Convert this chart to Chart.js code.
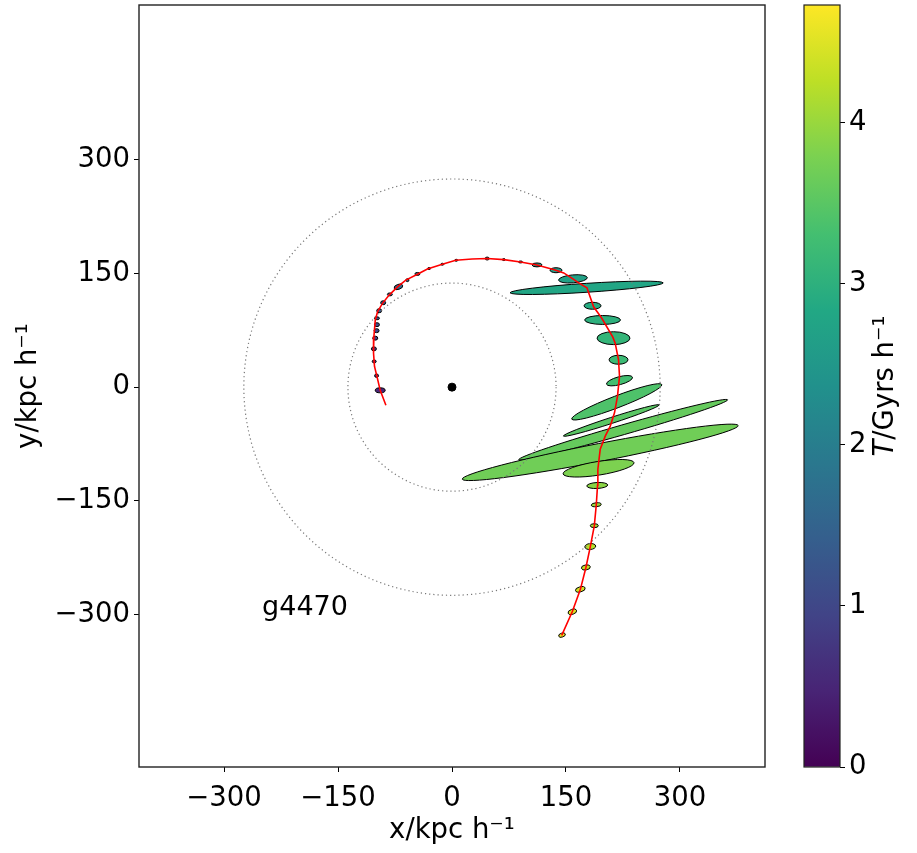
<!DOCTYPE html>
<html>
<head>
<meta charset="utf-8">
<script src="https://cdn.jsdelivr.net/npm/chart.js@4.4.0/dist/chart.umd.min.js"></script>
<style>
  body { margin: 0; background: #fff; }
  #wrap { position: relative; width: 917px; height: 853px; }
  #orbit { position: absolute; left: 0; top: 0; }
  #cbar { position: absolute; left: 760px; top: 0; }
</style>
</head>
<body>
<div id="wrap">
  <canvas id="orbit" width="917" height="853"></canvas>
  <canvas id="cbar" width="157" height="853"></canvas>
</div>
<script>
const FONT = "'DejaVu Sans', sans-serif";

// orbit track (kpc/h)
const trackX = [144.4, 158.4, 168.9, 176.2, 182, 187.3, 189.9, 191.6, 192, 195.1, 201.7, 208.3, 213.9, 217.8, 220.5, 219.2, 214.8, 211.7, 197.2, 186.4, 177.6, 166.7, 159.2, 147, 136.9, 111.9, 90.2, 68.2, 46.3, 26.6, 4.9, -12.7, -32.4, -45.5, -60.8, -71.8, -82.7, -91.5, -98, -101, -102.8, -103.3, -102, -98.8, -94.5, -87];
const trackY = [-327.4, -296, -267, -238.2, -210.6, -183, -155.5, -129.3, -108.3, -82, -64.6, -51.4, -33.9, -12.1, 14.2, 36.1, 58, 65.9, 90.8, 106, 131, 137.5, 142.8, 150.7, 154.2, 161.2, 165.1, 168.2, 169.6, 169, 167.3, 162.1, 155.9, 148.9, 141.1, 132.3, 121.4, 110.5, 99.5, 88.6, 66.7, 44.9, 27.3, 14.2, -4.2, -23.9];

// ellipses along the orbit, in time order (T, Gyr/h)
const ellT = [0.5, 0.6, 0.7, 0.8, 0.9, 1.0, 1.1, 1.2, 1.3, 1.4, 1.5, 1.6, 1.7, 1.8, 1.9, 2.0, 2.1, 2.2, 2.3, 2.4, 2.5, 2.6, 2.7, 2.8, 2.9, 3.0, 3.1, 3.2, 3.3, 3.4, 3.5, 3.6, 3.7, 3.8, 3.9, 4.0, 4.1, 4.2, 4.3, 4.4, 4.5, 4.6];
const ellX = [-94.5, -99.3, -102.4, -102.8, -101, -99.3, -98.8, -98.8, -95.8, -90.6, -81.8, -70.5, -58.7, -45.5, -30.2, -12.7, 5.6, 46.3, 68.2, 90.2, 111.9, 136.9, 159.2, 177.2, 185, 198.2, 212.6, 219.2, 220.5, 216.9, 209.6, 225.3, 195.1, 192.9, 191.2, 189.9, 187.3, 182, 176.2, 168.9, 158.4, 144.8];
const ellY = [-4.2, 15.1, 33.9, 50.5, 64.6, 74.5, 82.4, 90.8, 100.8, 111.3, 122.3, 132.3, 141.1, 149.3, 156.4, 162.1, 167.3, 169.6, 168.2, 165.1, 161.2, 154.2, 142.8, 131, 107.3, 88.6, 64.6, 36.1, 8.5, -19.4, -44, -56.2, -86, -107, -129.7, -155.1, -182.7, -210.2, -237.8, -266.7, -296.3, -327];
const ellW = [13.1, 5.2, 5.2, 6.6, 6.6, 6.6, 6.6, 6.6, 6.6, 6.6, 6.6, 11.8, 4, 6.6, 4, 4, 4, 5.2, 4, 5.2, 13.1, 15.7, 38, 202, 22.3, 47.2, 43.3, 24.9, 35.4, 127, 132.5, 286, 370, 94.5, 27.6, 13.1, 10.5, 14.4, 11.8, 13.1, 11.8, 9.2];
const ellH = [6.6, 4.5, 3.9, 5.2, 5.2, 5.2, 5.2, 3.9, 5.2, 5.2, 3.9, 6.6, 3.9, 3.9, 2.6, 2.6, 2.6, 3.9, 2.6, 2.6, 5.2, 6.6, 10.5, 11.8, 9.2, 11.8, 17, 11.8, 10.5, 15.7, 7.9, 13, 23.6, 18, 7.9, 5.2, 5.2, 7.9, 6.6, 6.6, 6.6, 5.2];
const ellAngle = [0, 0, 0, 0, 0, 0, 0, 0, 0, 0, 0, 20, 0, 0, 0, 0, 0, 0, 0, 0, 0, 0, 5, 3.7, 0, 0, 0, 0, 15, 21, 18, 16, 11, 9, 3, 5, 0, 5, 10, 15, 20, 20];

const circleRadii = [137, 274];
const xTicks = [-300, -150, 0, 150, 300];
const yTicks = [-300, -150, 0, 150, 300];
const cbTicks = [0, 1, 2, 3, 4];
const tMax = 4.73;

const viridis = ["#440154", "#482475", "#414487", "#355f8d", "#2a788e", "#21918c", "#22a884", "#44bf70", "#7ad151", "#bddf26", "#fde725"];

function hexRgb(h) {
  return [1, 3, 5].map(i => parseInt(h.substr(i, 2), 16));
}
function viridisAt(t) {
  t = Math.max(0, Math.min(1, t));
  const f = t * (viridis.length - 1);
  const i = Math.min(Math.floor(f), viridis.length - 2);
  const a = hexRgb(viridis[i]), b = hexRgb(viridis[i + 1]);
  const u = f - i;
  const c = a.map((v, k) => Math.round(v + (b[k] - v) * u));
  return `rgb(${c[0]},${c[1]},${c[2]})`;
}

// drop the half-label overhang chart.js reserves, so the plot box sits where we put it
function noOverhang(s) {
  s.paddingTop = 0; s.paddingBottom = 0; s.paddingLeft = 0; s.paddingRight = 0;
}

// ---------------- ORBIT PANEL ----------------
const orbitDecor = {
  id: "orbitDecor",
  beforeDatasetsDraw(chart) {
    const { ctx, chartArea: a, scales: { x, y } } = chart;
    ctx.save();
    ctx.beginPath();
    ctx.rect(a.left, a.top, a.right - a.left, a.bottom - a.top);
    ctx.clip();
    ellX.forEach((cx, i) => {
      const px = x.getPixelForValue(cx), py = y.getPixelForValue(ellY[i]);
      const rx = Math.abs(x.getPixelForValue(cx + ellW[i] / 2) - px);
      const ry = Math.abs(y.getPixelForValue(ellY[i] + ellH[i] / 2) - py);
      ctx.beginPath();
      ctx.ellipse(px, py, rx, ry, -ellAngle[i] * Math.PI / 180, 0, 2 * Math.PI);
      ctx.fillStyle = viridisAt(ellT[i] / tMax);
      ctx.fill();
      ctx.lineWidth = 1;
      ctx.strokeStyle = "#000";
      ctx.stroke();
    });
    const ox = x.getPixelForValue(0), oy = y.getPixelForValue(0);
    ctx.setLineDash([1.2, 3]);
    ctx.lineWidth = 1.2;
    ctx.strokeStyle = "#777";
    circleRadii.forEach(r => {
      const rp = Math.abs(x.getPixelForValue(r) - ox);
      ctx.beginPath();
      ctx.arc(ox, oy, rp, 0, 2 * Math.PI);
      ctx.stroke();
    });
    ctx.restore();
  },
  afterDraw(chart) {
    const { ctx, chartArea: a, scales: { x, y } } = chart;
    ctx.save();
    ctx.lineWidth = 1.4;
    ctx.strokeStyle = "#222";
    ctx.strokeRect(a.left, a.top, a.right - a.left, a.bottom - a.top);
    ctx.fillStyle = "#000";
    ctx.font = `27px ${FONT}`;
    ctx.textAlign = "left";
    ctx.textBaseline = "alphabetic";
    ctx.fillText("g4470", x.getPixelForValue(-250), y.getPixelForValue(-300));
    ctx.restore();
  }
};

new Chart(document.getElementById("orbit"), {
  type: "scatter",
  data: {
    datasets: [
      {
        data: trackX.map((v, i) => ({ x: v, y: trackY[i] })),
        showLine: true,
        borderColor: "#ff0000",
        borderWidth: 1.6,
        pointRadius: 0,
        tension: 0
      },
      {
        data: [{ x: 0, y: 0 }],
        pointRadius: 4,
        backgroundColor: "#000",
        borderColor: "#000"
      }
    ]
  },
  options: {
    responsive: false,
    animation: false,
    layout: { padding: { left: 0, top: 5, right: 152, bottom: 0 } },
    plugins: { legend: { display: false }, tooltip: { enabled: false } },
    scales: {
      x: {
        type: "linear", min: -412, max: 412,
        afterBuildTicks: s => { s.ticks = xTicks.map(v => ({ value: v })); },
        afterFit: s => { s.height = 86; noOverhang(s); },
        grid: { drawOnChartArea: false, drawTicks: true, tickLength: 5, color: "#000" },
        border: { display: false },
        ticks: { color: "#000", font: { family: FONT, size: 27.5 }, padding: 10,
          callback: v => String(v).replace("-", "\u2212") },
        title: { display: true, text: "x/kpc h\u207B\u00B9", color: "#000",
          font: { family: FONT, size: 27.5 }, padding: { top: 0, bottom: 6 } }
      },
      y: {
        type: "linear", min: -501, max: 504,
        afterBuildTicks: s => { s.ticks = yTicks.map(v => ({ value: v })); },
        afterFit: s => { s.width = 139; noOverhang(s); },
        grid: { drawOnChartArea: false, drawTicks: true, tickLength: 5, color: "#000" },
        border: { display: false },
        ticks: { color: "#000", font: { family: FONT, size: 27.5 }, padding: 4,
          callback: v => String(v).replace("-", "\u2212") },
        title: { display: true, text: "y/kpc h\u207B\u00B9", color: "#000",
          font: { family: FONT, size: 27.5 }, padding: { top: 12, bottom: 0 } }
      }
    }
  },
  plugins: [orbitDecor]
});

// ---------------- COLOUR BAR ----------------
const cbTitle = {
  id: "cbTitle",
  afterDraw(chart) {
    const { ctx, chartArea: a } = chart;
    ctx.save();
    ctx.lineWidth = 1.2;
    ctx.strokeStyle = "#222";
    ctx.strokeRect(a.left, a.top, a.right - a.left, a.bottom - a.top);
    ctx.translate(126, (a.top + a.bottom) / 2);
    ctx.rotate(-Math.PI / 2);
    ctx.fillStyle = "#000";
    ctx.textBaseline = "middle";
    ctx.textAlign = "left";
    const t1 = "T", t2 = "/Gyrs h\u207B\u00B9";
    ctx.font = `italic 27.5px ${FONT}`;
    const w1 = ctx.measureText(t1).width;
    ctx.font = `27.5px ${FONT}`;
    const w2 = ctx.measureText(t2).width;
    const x0 = -(w1 + w2) / 2;
    ctx.font = `italic 27.5px ${FONT}`;
    ctx.fillText(t1, x0, 0);
    ctx.font = `27.5px ${FONT}`;
    ctx.fillText(t2, x0 + w1, 0);
    ctx.restore();
  }
};

new Chart(document.getElementById("cbar"), {
  type: "bar",
  data: {
    labels: ["T"],
    datasets: [{
      data: [[0, tMax]],
      barPercentage: 1,
      categoryPercentage: 1,
      borderWidth: 0,
      backgroundColor: c => {
        const area = c.chart.chartArea;
        if (!area) return viridis[5];
        const g = c.chart.ctx.createLinearGradient(0, area.bottom, 0, area.top);
        viridis.forEach((col, i) => g.addColorStop(i / (viridis.length - 1), col));
        return g;
      }
    }]
  },
  options: {
    responsive: false,
    animation: false,
    layout: { padding: { left: 44, top: 5, right: 0, bottom: 86 } },
    plugins: { legend: { display: false }, tooltip: { enabled: false } },
    scales: {
      x: { display: false },
      y: {
        position: "right",
        min: 0, max: tMax,
        afterBuildTicks: s => { s.ticks = cbTicks.map(v => ({ value: v })); },
        afterFit: s => { s.width = 77; noOverhang(s); },
        grid: { drawOnChartArea: false, drawTicks: true, tickLength: 5, color: "#000" },
        border: { display: false },
        ticks: { color: "#000", font: { family: FONT, size: 27.5 }, padding: 4 }
      }
    }
  },
  plugins: [cbTitle]
});
</script>
</body>
</html>
